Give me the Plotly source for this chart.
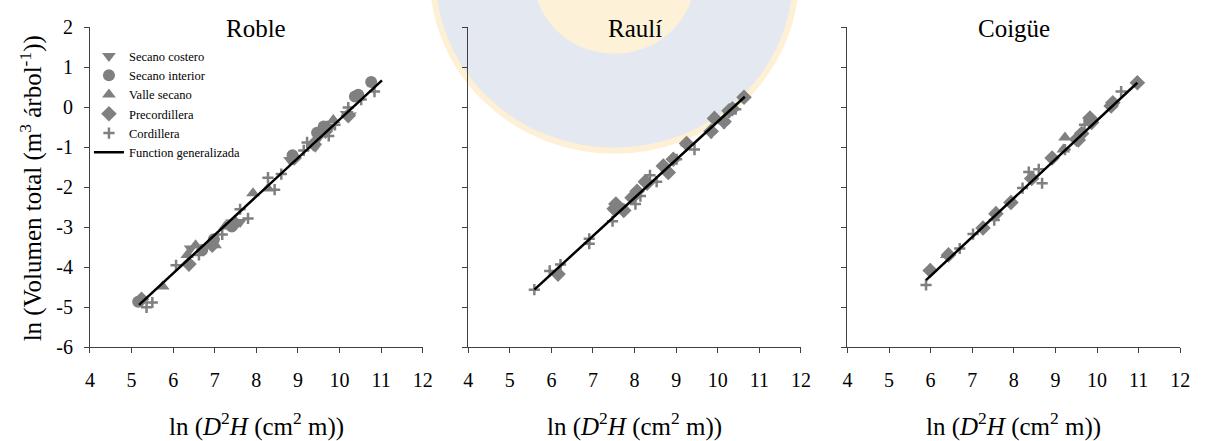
import plotly.graph_objects as go

# ---------------- data ----------------
x_tickvals = [4, 5, 6, 7, 8, 9, 10, 11, 12]
x_ticktext = ["4", "5", "6", "7", "8", "9", "10", "11", "12"]
y_tickvals = [-6, -5, -4, -3, -2, -1, 0, 1, 2]
y_ticktext = ["-6", "-5", "-4", "-3", "-2", "-1", "0", "1", "2"]

panel_titles = ["Roble", "Raulí", "Coigüe"]
group_names = ["Secano costero", "Secano interior", "Valle secano", "Precordillera", "Cordillera"]
line_name = "Function generalizada"

# Roble
roble_costero_x = [6.42, 7.41, 7.61, 8.81, 9.42, 9.50, 10.17, 10.25]
roble_costero_y = [-3.53, -2.88, -2.87, -1.32, -0.99, -0.76, -0.17, -0.21]
roble_interior_x = [5.16, 6.70, 6.98, 7.41, 8.87, 9.46, 9.62, 10.37, 10.45, 10.76]
roble_interior_y = [-4.86, -3.57, -3.30, -2.98, -1.20, -0.64, -0.48, 0.27, 0.31, 0.63]
roble_valle_x = [5.75, 6.34, 6.54, 7.01, 7.25, 7.92, 8.28, 9.54, 9.85]
roble_valle_y = [-4.48, -3.69, -3.45, -3.45, -2.98, -2.15, -2.03, -0.60, -0.32]
roble_precord_x = [5.24, 6.38, 6.94, 7.49, 8.91, 9.38, 9.66, 9.70, 10.21]
roble_precord_y = [-4.80, -3.92, -3.45, -2.90, -1.27, -0.92, -0.60, -0.52, -0.21]
roble_cord_x = [5.36, 5.50, 6.07, 6.62, 7.18, 7.61, 7.80, 8.28, 8.44, 8.60, 9.14, 9.22, 9.74, 9.89, 10.21, 10.52, 10.84]
roble_cord_y = [-5.00, -4.88, -3.95, -3.69, -3.18, -2.55, -2.78, -1.76, -2.06, -1.67, -1.08, -0.88, -0.72, -0.44, -0.01, 0.19, 0.39]
roble_line_x = [5.18, 11.02]
roble_line_y = [-4.94, 0.67]

# Raulí
raul_costero_x, raul_costero_y = [], []
raul_interior_x, raul_interior_y = [], []
raul_valle_x, raul_valle_y = [], []
raul_precord_x = [6.16, 7.51, 7.55, 7.74, 7.94, 8.06, 8.26, 8.30, 8.69, 8.81, 8.93, 9.25, 9.84, 9.92, 10.15, 10.27, 10.35, 10.63]
raul_precord_y = [-4.17, -2.54, -2.42, -2.58, -2.26, -2.10, -1.86, -1.90, -1.47, -1.63, -1.30, -0.91, -0.60, -0.28, -0.36, -0.09, -0.04, 0.25]
raul_cord_x = [5.59, 5.96, 6.22, 6.91, 6.91, 7.47, 8.02, 8.14, 8.37, 8.53, 8.77, 9.01, 9.24, 9.44, 9.84, 10.15, 10.27, 10.43]
raul_cord_y = [-4.56, -4.09, -3.93, -3.29, -3.41, -2.85, -2.42, -2.22, -1.70, -1.86, -1.62, -1.30, -0.95, -1.06, -0.64, -0.40, -0.13, -0.05]
raul_line_x = [5.59, 10.65]
raul_line_y = [-4.56, 0.26]

# Coigüe
coig_costero_x, coig_costero_y = [], []
coig_interior_x, coig_interior_y = [], []
coig_valle_x = [5.99, 6.39, 8.43, 9.19, 9.23]
coig_valle_y = [-4.04, -3.69, -1.74, -1.06, -0.76]
coig_precord_x = [5.99, 6.43, 7.26, 7.57, 7.93, 8.43, 8.92, 9.51, 9.55, 9.63, 9.83, 9.87, 10.34, 10.38, 10.97]
coig_precord_y = [-4.08, -3.69, -3.02, -2.66, -2.38, -1.78, -1.27, -0.80, -0.82, -0.66, -0.27, -0.38, 0.03, 0.11, 0.61]
coig_cord_x = [5.89, 6.70, 7.02, 7.53, 8.21, 8.36, 8.60, 8.68, 9.23, 9.58, 9.70, 10.58]
coig_cord_y = [-4.44, -3.53, -3.17, -2.82, -2.02, -1.62, -1.55, -1.90, -1.06, -0.70, -0.44, 0.39]
coig_line_x = [5.89, 10.97]
coig_line_y = [-4.32, 0.61]

panels = [
    [(roble_costero_x, roble_costero_y), (roble_interior_x, roble_interior_y), (roble_valle_x, roble_valle_y),
     (roble_precord_x, roble_precord_y), (roble_cord_x, roble_cord_y), (roble_line_x, roble_line_y)],
    [(raul_costero_x, raul_costero_y), (raul_interior_x, raul_interior_y), (raul_valle_x, raul_valle_y),
     (raul_precord_x, raul_precord_y), (raul_cord_x, raul_cord_y), (raul_line_x, raul_line_y)],
    [(coig_costero_x, coig_costero_y), (coig_interior_x, coig_interior_y), (coig_valle_x, coig_valle_y),
     (coig_precord_x, coig_precord_y), (coig_cord_x, coig_cord_y), (coig_line_x, coig_line_y)],
]

# ---------------- styling ----------------
W, H = 1208, 441
FONT = "Liberation Serif"
GRAY = "#808080"
AX = "#404040"
marker_styles = [
    dict(symbol="triangle-down", size=12, color=GRAY),
    dict(symbol="circle", size=12, color=GRAY),
    dict(symbol="triangle-up", size=12, color=GRAY),
    dict(symbol="diamond", size=12, color=GRAY),
    dict(symbol="cross-thin", size=8, color=GRAY, line=dict(width=2.5, color=GRAY)),
]
px_left = [86, 469, 853]
px_w = 337
py_top, py_bot = 17, 354

fig = go.Figure()

for p, series in enumerate(panels):
    sfx = "" if p == 0 else str(p + 1)
    for g in range(5):
        xs, ys = series[g]
        fig.add_trace(go.Scatter(
            x=xs, y=ys, mode="markers", name=group_names[g], legendgroup=group_names[g],
            showlegend=(p == 0), marker=marker_styles[g], xaxis="x" + sfx, yaxis="y" + sfx,
            hoverinfo="skip"))
    lx, ly = series[5]
    fig.add_trace(go.Scatter(
        x=lx, y=ly, mode="lines", name=line_name, legendgroup=line_name, showlegend=(p == 0),
        line=dict(color="black", width=2.5), xaxis="x" + sfx, yaxis="y" + sfx, hoverinfo="skip"))

layout = dict(
    width=W, height=H, margin=dict(l=0, r=0, t=0, b=0),
    paper_bgcolor="white", plot_bgcolor="rgba(0,0,0,0)",
    font=dict(family=FONT, color="black"),
    legend=dict(x=85 / W, xanchor="left", y=1 - 32 / H, yanchor="top",
                font=dict(family=FONT, size=12.5, color="black"),
                bgcolor="rgba(0,0,0,0)", tracegroupgap=0, itemwidth=30),
    annotations=[], shapes=[],
)

ydom = [1 - py_bot / H, 1 - py_top / H]
for p in range(3):
    sfx = "" if p == 0 else str(p + 1)
    xd = [px_left[p] / W, (px_left[p] + px_w) / W]
    layout["xaxis" + sfx] = dict(
        domain=xd, range=[4, 12], anchor="y" + sfx, tickmode="array",
        tickvals=x_tickvals, ticktext=x_ticktext, ticks="outside", ticklen=5, tickwidth=1,
        tickcolor=AX, showline=True, linecolor=AX, linewidth=1, showgrid=False, zeroline=False,
        tickfont=dict(family=FONT, size=20, color="black"), ticklabelstandoff=10)
    layout["yaxis" + sfx] = dict(
        domain=ydom, range=[-6, 2], anchor="x" + sfx, tickmode="array",
        tickvals=y_tickvals, ticktext=y_ticktext, showticklabels=(p == 0),
        ticks="outside", ticklen=5, tickwidth=1, tickcolor=AX, showline=True, linecolor=AX,
        linewidth=1, showgrid=False, zeroline=False,
        tickfont=dict(family=FONT, size=20, color="black"), ticklabelstandoff=7)
    cx = (px_left[p] + px_w / 2) / W
    layout["annotations"].append(dict(
        text=panel_titles[p], x=cx, y=1 - 18 / H, xref="paper", yref="paper",
        xanchor="center", yanchor="middle", showarrow=False,
        font=dict(family=FONT, size=25, color="black")))
    layout["annotations"].append(dict(
        text="ln (<i>D</i><sup>2</sup><i>H</i> (cm<sup>2</sup> m))", x=cx, y=1 - 435 / H,
        xref="paper", yref="paper", xanchor="center", yanchor="middle", showarrow=False,
        font=dict(family=FONT, size=25, color="black")))

layout["annotations"].append(dict(
    text="ln (Volumen total (m<sup>3</sup> árbol<sup>-1</sup>))", x=27 / W, y=1 - 187 / H,
    xref="paper", yref="paper", xanchor="center", yanchor="middle", textangle=-90,
    showarrow=False, font=dict(family=FONT, size=25, color="black")))

# faint watermark crest behind the middle panel
cxp, cyp, R = 617, -37, 184
layout["shapes"].append(dict(
    type="circle", xref="paper", yref="paper", layer="below",
    x0=(cxp - R) / W, x1=(cxp + R) / W, y0=1 - (cyp + R) / H, y1=1 - (cyp - R) / H,
    fillcolor="#e4e9f1", line=dict(color="#fdf0d4", width=6)))
r2 = 82
layout["shapes"].append(dict(
    type="circle", xref="paper", yref="paper", layer="below",
    x0=(cxp - r2) / W, x1=(cxp + r2) / W, y0=1 - (cyp + r2) / H, y1=1 - (cyp - r2) / H,
    fillcolor="#fdf1d8", line=dict(color="#fdf1d8", width=0)))

fig.update_layout(**layout)
fig.write_html("out.html")
